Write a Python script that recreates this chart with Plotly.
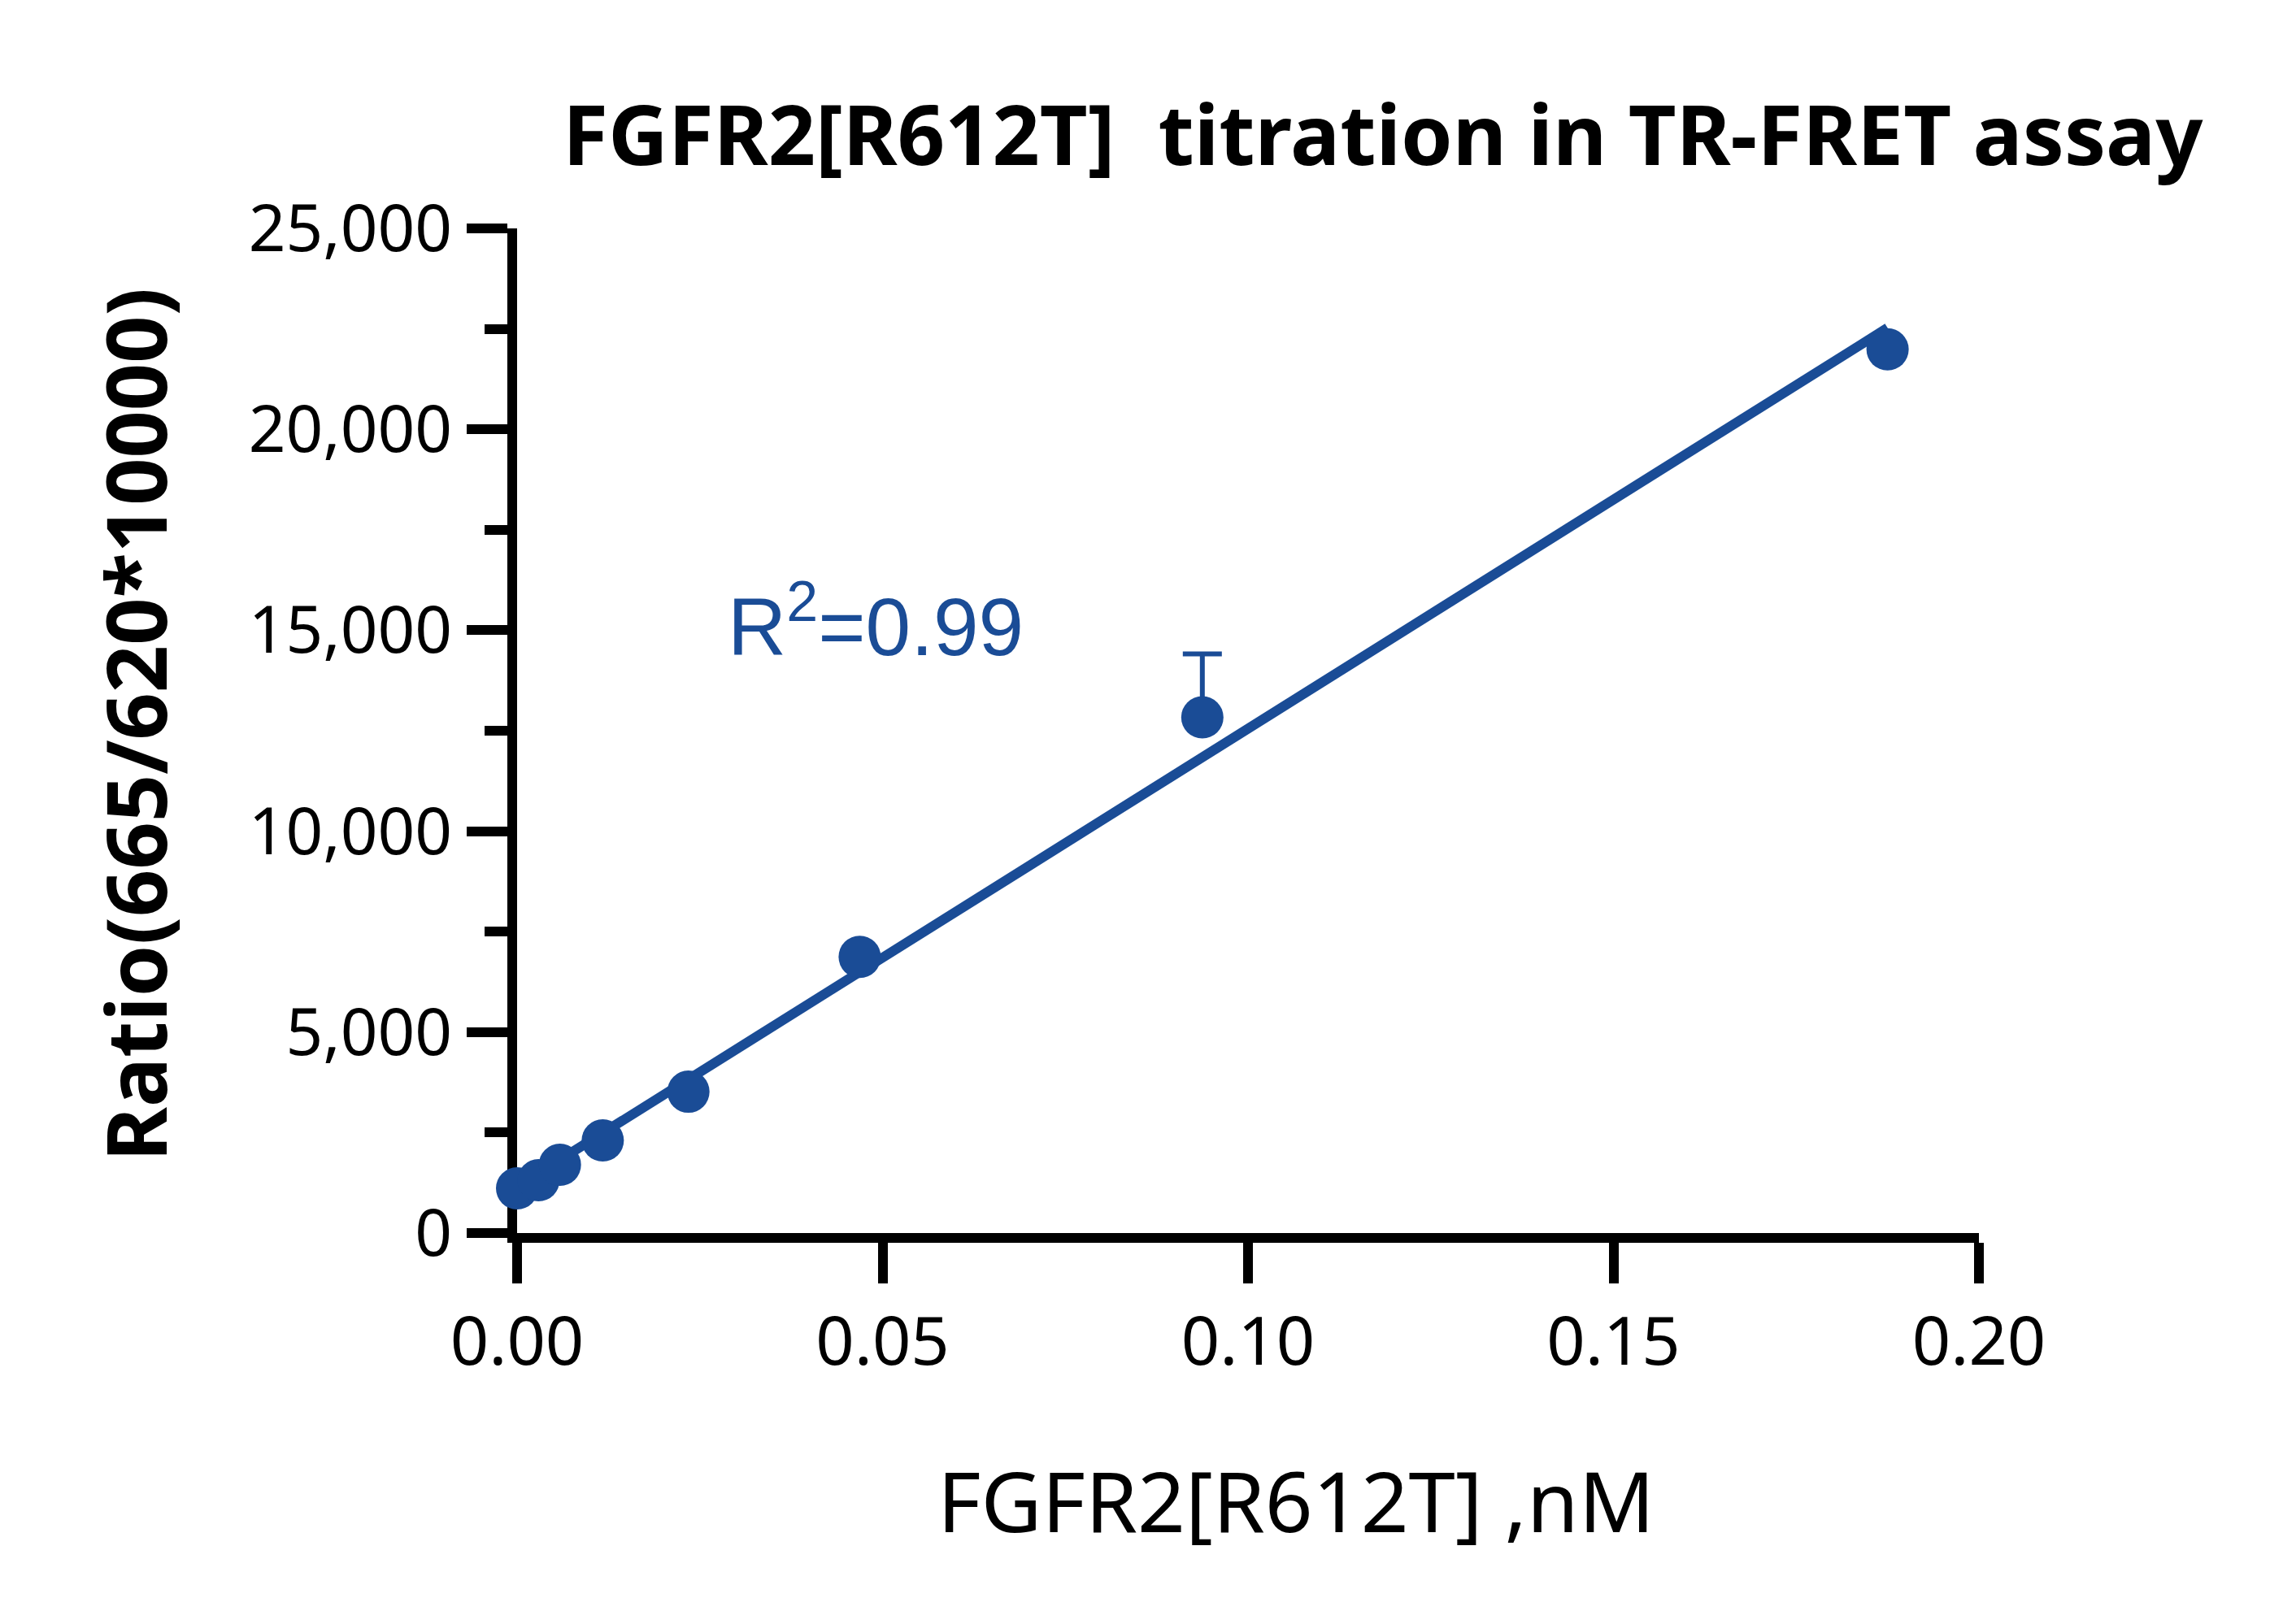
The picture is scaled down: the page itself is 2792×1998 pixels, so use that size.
import numpy as np
import plotly.graph_objects as go

# Data
conc_nM = [0.0, 0.0029297, 0.0058594, 0.0117188, 0.0234375, 0.046875, 0.09375, 0.1875]
ratio = [1112, 1314, 1698, 2304, 3517, 6872, 12833, 21990]
err_plus = [None, None, None, None, None, None, 1580, None]

x_ticks = [0.0, 0.05, 0.10, 0.15, 0.20]
x_ticklabels = ["0.00", "0.05", "0.10", "0.15", "0.20"]
y_ticks = [0, 5000, 10000, 15000, 20000, 25000]
y_ticklabels = ["0", "5,000", "10,000", "15,000", "20,000", "25,000"]

title_text = "<b>FGFR2[R612T]  titration in TR-FRET assay</b>"
x_title = "FGFR2[R612T] ,nM"
y_title = "<b>Ratio(665/620*10000)</b>"
r2_text = "R<sup>2</sup>=0.99"

BLUE = "#1a4c96"
W, H = 2792, 1998
L, R, T, B = 628, 366, 273, 489
PW, PH = W - L - R, H - T - B


def px(xp):
    return (xp - L) / PW


def py(yp):
    return (H - B - yp) / PH


# linear regression on the points
slope, intercept = np.polyfit(conc_nM, ratio, 1)
fit_x = np.array([min(conc_nM), max(conc_nM)])
fit_y = slope * fit_x + intercept

fig = go.Figure()
fig.add_trace(go.Scatter(
    x=fit_x, y=fit_y, mode="lines",
    line=dict(color=BLUE, width=12),
    cliponaxis=False, showlegend=False, hoverinfo="skip",
))
fig.add_trace(go.Scatter(
    x=conc_nM, y=ratio, mode="markers",
    marker=dict(color=BLUE, size=52, line=dict(width=0)),
    error_y=dict(type="data", symmetric=False, array=err_plus,
                 arrayminus=[0] * len(ratio), color=BLUE, thickness=6, width=24),
    cliponaxis=False, showlegend=False,
))

axis_common = dict(
    showgrid=False, zeroline=False, showline=True, linecolor="black", linewidth=12,
    ticks="outside", tickcolor="black", tickwidth=12, ticklen=50,
    layer="below traces", mirror=False,
)
fig.update_xaxes(
    range=[0, 0.2], tickmode="array", tickvals=x_ticks, ticktext=x_ticklabels,
    tickfont=dict(family="Noto Sans", size=83, color="black"),
    **axis_common,
)
fig.update_yaxes(
    range=[0, 25000], tickmode="array", tickvals=y_ticks, ticktext=y_ticklabels,
    tickfont=dict(family="Noto Sans", size=80, color="black"),
    minor=dict(dtick=2500, tick0=0, ticks="outside", ticklen=28, tickwidth=12, tickcolor="black"),
    ticklabelstandoff=2,
    **axis_common,
)

fig.add_annotation(
    text=title_text, xref="paper", yref="paper",
    x=px(1693), y=py(156),
    xanchor="center", yanchor="middle", showarrow=False,
    font=dict(family="Noto Sans", size=102, color="black"),
)
fig.add_annotation(
    text=y_title, xref="paper", yref="paper",
    x=px(157), y=py(884),
    xanchor="center", yanchor="middle", textangle=-90, showarrow=False,
    font=dict(family="Noto Sans", size=102, color="black"),
)
fig.add_annotation(
    text=x_title, xref="paper", yref="paper",
    x=px(1586), y=py(1837),
    xanchor="center", yanchor="middle", showarrow=False,
    font=dict(family="Noto Sans", size=103, color="black"),
)
fig.add_annotation(
    text=r2_text, xref="paper", yref="paper",
    x=px(885), y=py(756),
    xanchor="left", yanchor="middle", showarrow=False,
    font=dict(family="Liberation Sans", size=100, color=BLUE),
)

fig.update_layout(
    width=W, height=H,
    margin=dict(l=L, r=R, t=T, b=B, pad=0),
    paper_bgcolor="white", plot_bgcolor="white",
    showlegend=False,
)

fig.write_html("out.html")
